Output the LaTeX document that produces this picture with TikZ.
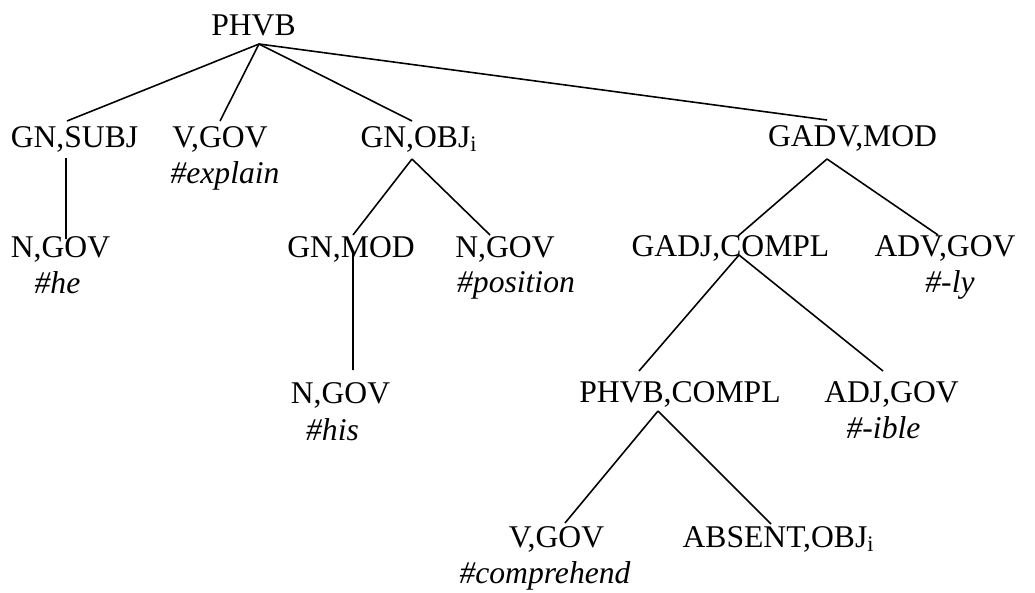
\documentclass[tikz,border=0pt]{standalone}
\usepackage{fontspec}
\setmainfont{Liberation Serif}
\usetikzlibrary{calc}

\begin{document}
\begin{tikzpicture}[x=0.02cm, y=-0.02cm, font=\fontsize{18}{21}\selectfont,
  cat/.style={inner sep=0pt, anchor=base},
  lex/.style={inner sep=0pt, anchor=base, font=\fontsize{18}{21}\selectfont\itshape},
  br/.style={line width=0.9pt, black}]
  \useasboundingbox (0,0) rectangle (1035,592);
  % categories
  \node[cat] (root)   at (253.5,35)  {PHVB};
  \node[cat] (subj)   at (74.5,147)  {GN,SUBJ};
  \node[cat] (vgov)   at (220,147)   {V,GOV};
  \node[cat] (obj)    at (419,147)   {GN,OBJ\textsubscript{i}};
  \node[cat] (gadv)   at (852.5,146) {GADV,MOD};
  \node[cat] (ngov)   at (60.5,257)  {N,GOV};
  \node[cat] (gnmod)  at (351,257)   {GN,MOD};
  \node[cat] (npos)   at (505,257)   {N,GOV};
  \node[cat] (gadj)   at (730.5,256) {GADJ,COMPL};
  \node[cat] (advgov) at (945,256)   {ADV,GOV};
  \node[cat] (nhis)   at (340.5,403) {N,GOV};
  \node[cat] (phvbc)  at (680,402)   {PHVB,COMPL};
  \node[cat] (adjgov) at (891.5,402) {ADJ,GOV};
  \node[cat] (vcomp)  at (556.5,547) {V,GOV};
  \node[cat] (absent) at (778.5,547) {ABSENT,OBJ\textsubscript{i}};
  % lexemes
  \node[lex] (lexplain) at (225,183)   {\#explain};
  \node[lex] (lhe)      at (57.5,293)  {\#he};
  \node[lex] (lpos)     at (516,292)   {\#position};
  \node[lex] (lly)      at (950,292)   {\#-ly};
  \node[lex] (lhis)     at (332.5,440) {\#his};
  \node[lex] (lible)    at (883.5,438) {\#-ible};
  \node[lex] (lcomp)    at (545,583)   {\#comprehend};
  % branches
  \foreach \a/\ax/\ay/\b/\bx/\by in {root/5.5/9/subj/-7.5/-26, root/5.5/9/vgov/0/-26,
      root/5.5/9/obj/-7/-26, root/5.5/9/gadv/-25.5/-26, subj/-8.5/11/ngov/5.5/-18,
      obj/-7/12/gnmod/2/-22, obj/-7/12/npos/-15/-22, gnmod/2/-5/nhis/12.5/-33,
      gadv/-25.5/13/gadj/7.5/-20, gadv/-25.5/13/advgov/-7/-21,
      gadj/8.5/-1/phvbc/-41/-31, gadj/8.5/-1/adjgov/-8.5/-31,
      phvbc/-22/9/vcomp/8.5/-24, phvbc/-22/9/absent/-7.5/-23}
    \draw[br] ($(\a.base)+(\ax,\ay)$) -- ($(\b.base)+(\bx,\by)$);
\end{tikzpicture}
\end{document}
